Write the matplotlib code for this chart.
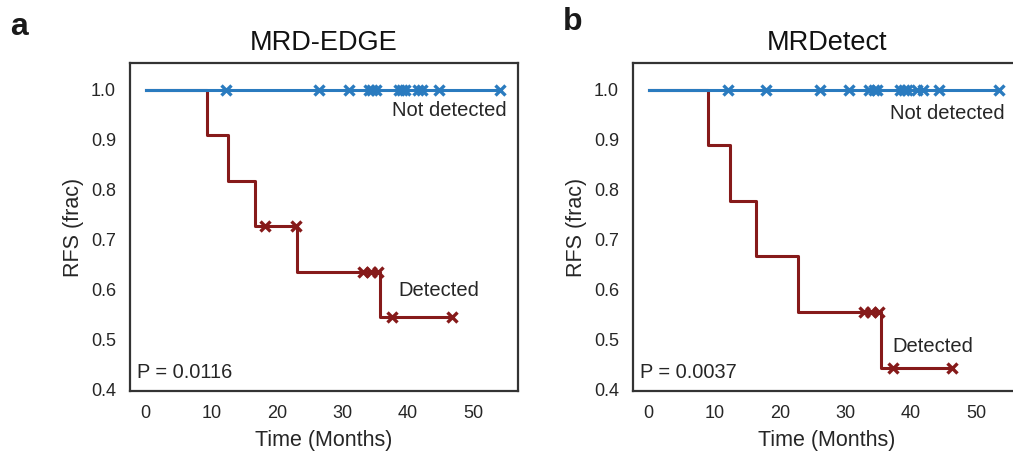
import numpy as np
import matplotlib
matplotlib.use("Agg")
import matplotlib.pyplot as plt

plt.rcParams['font.family'] = ['Liberation Sans', 'DejaVu Sans']

# ---------------- data ----------------
titles = ["MRD-EDGE", "MRDetect"]
panel_letters = ["a", "b"]
p_values = ["P = 0.0116", "P = 0.0037"]

# Panel a (MRD-EDGE)
a_det_times = [0.0, 9.4, 12.6, 16.6, 23.1, 35.8]
a_det_surv = [1.0, 0.909, 0.818, 0.727, 0.636, 0.545]
a_det_end = 46.7
a_det_censor = [18.2, 22.9, 33.2, 34.3, 35.5, 37.6, 46.7]
a_nd_end = 54.1
a_nd_censor = [12.3, 26.4, 31.0, 34.0, 34.5, 35.2, 38.6, 39.1, 39.6,
               41.5, 42.2, 44.8, 54.1]

# Panel b (MRDetect)
b_det_times = [0.0, 9.1, 12.4, 16.4, 22.8, 35.4]
b_det_surv = [1.0, 0.889, 0.778, 0.667, 0.556, 0.444]
b_det_end = 46.3
b_det_censor = [32.9, 33.9, 35.2, 37.2, 46.3]
b_nd_end = 53.5
b_nd_censor = [12.1, 17.9, 26.1, 30.6, 33.6, 34.3, 34.8, 38.3, 38.9, 39.4,
               41.0, 41.8, 44.3, 53.5]

yticks = [0.4, 0.5, 0.6, 0.7, 0.8, 0.9, 1.0]
xticks = [0, 10, 20, 30, 40, 50]

panels = [
    dict(det_t=a_det_times, det_s=a_det_surv, det_end=a_det_end, det_c=a_det_censor,
         nd_end=a_nd_end, nd_c=a_nd_censor,
         nd_lbl=(55.1, 0.958), det_lbl=(38.5, 0.598)),
    dict(det_t=b_det_times, det_s=b_det_surv, det_end=b_det_end, det_c=b_det_censor,
         nd_end=b_nd_end, nd_c=b_nd_censor,
         nd_lbl=(54.3, 0.953), det_lbl=(37.2, 0.486)),
]

BLUE = '#2a7bbf'
RED = '#861a1a'
SPINE = '#333333'
TXT = '#262626'

W, H = 1013, 455
fig = plt.figure(figsize=(W / 100, H / 100), dpi=100)

axes_px = [(130, 63, 388, 328), (633, 63, 388, 328)]

for i, (px, pan) in enumerate(zip(axes_px, panels)):
    x0, y0, w, h = px
    ax = fig.add_axes([x0 / W, 1 - (y0 + h) / H, w / W, h / H])

    # detected curve
    t = list(pan['det_t']) + [pan['det_end']]
    s = list(pan['det_s']) + [pan['det_s'][-1]]
    ax.step(t, s, where='post', color=RED, lw=2.2, zorder=2)
    ct = np.array(pan['det_c'])
    idx = np.searchsorted(np.array(pan['det_t']), ct, side='right') - 1
    cs = np.array(pan['det_s'])[idx]
    ax.plot(ct, cs, ls='none', marker='x', ms=6.5, mew=2.4, color=RED, zorder=3)

    # not detected curve
    ax.plot([0, pan['nd_end']], [1.0, 1.0], color=BLUE, lw=2.2, zorder=4)
    ax.plot(pan['nd_c'], [1.0] * len(pan['nd_c']), ls='none', marker='x',
            ms=6.5, mew=2.4, color=BLUE, zorder=5)

    ax.set_xlim(-2.4, 56.8)
    ax.set_ylim(0.398, 1.053)
    ax.set_xticks(xticks)
    ax.set_yticks(yticks)
    ax.set_yticklabels([f"{v:.1f}" for v in yticks])
    ax.tick_params(length=0, labelsize=13, colors=TXT, pad=10)
    for sp in ax.spines.values():
        sp.set_color(SPINE)
        sp.set_linewidth(1.6)

    ax.set_xlabel("Time (Months)", fontsize=15.5, color=TXT, labelpad=6)
    ax.set_ylabel("RFS (frac)", fontsize=15.5, color=TXT, labelpad=5)
    ax.set_title(titles[i], fontsize=19.5, color='#111111', pad=9)

    ax.text(pan['nd_lbl'][0], pan['nd_lbl'][1], "Not detected", ha='right',
            va='center', fontsize=14.5, color=TXT)
    ax.text(pan['det_lbl'][0], pan['det_lbl'][1], "Detected", ha='left',
            va='center', fontsize=14.5, color=TXT)
    ax.text(0.018, 0.056, p_values[i], transform=ax.transAxes, ha='left',
            va='center', fontsize=14.4, color=TXT)

fig.text(10 / W, 1 - 27 / H, panel_letters[0], fontsize=23, fontweight='bold',
         ha='left', va='center', color='#1a1a1a')
fig.text(563 / W, 1 - 22 / H, panel_letters[1], fontsize=23, fontweight='bold',
         ha='left', va='center', color='#1a1a1a')

fig.savefig("out.png", dpi=100)
